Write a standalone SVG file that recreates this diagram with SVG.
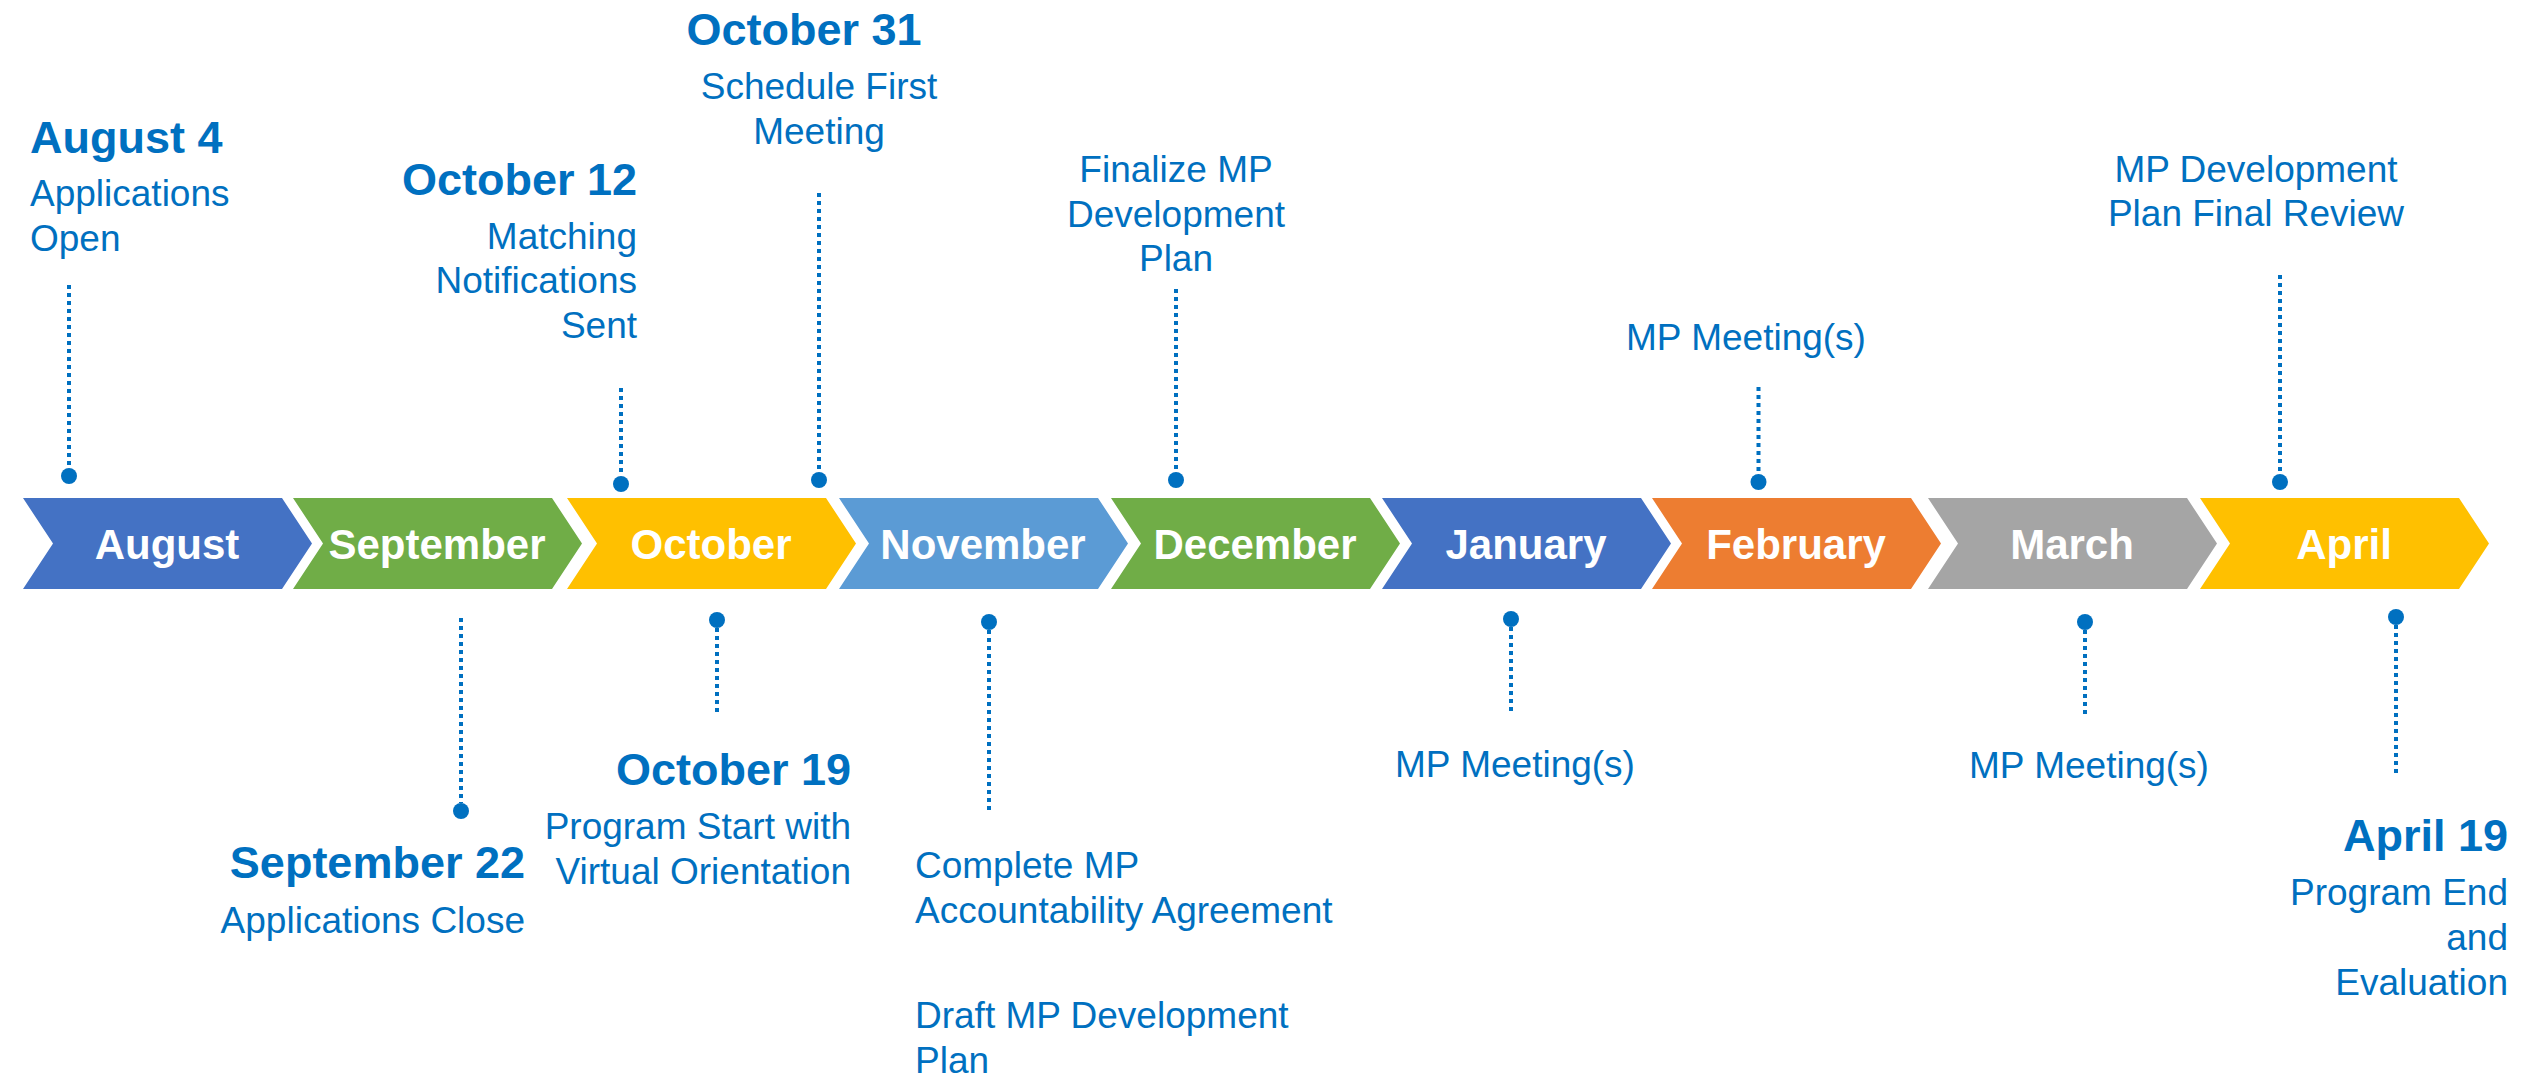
<svg xmlns="http://www.w3.org/2000/svg" width="2526" height="1077" viewBox="0 0 2526 1077">
<style>
.m{font-family:"Liberation Sans",Arial,sans-serif;font-weight:bold;font-size:42px;fill:#FFFFFF;text-anchor:middle}
.d{font-family:"Liberation Sans",Arial,sans-serif;font-weight:bold;font-size:45px;fill:#0070C0}
.t{font-family:"Liberation Sans",Arial,sans-serif;font-size:37px;fill:#0070C0}
.s{text-anchor:start}.e{text-anchor:end}.c{text-anchor:middle}
.ln{stroke:#0070C0;stroke-width:4;stroke-dasharray:4 4;fill:none}
.dot{fill:#0070C0}
</style>
<defs>
<polygon id="chev" points="0,498 259,498 289,543.5 259,589 0,589 30,543.5"/>
</defs>
<rect width="2526" height="1077" fill="#FFFFFF"/>
<g id="months">
<g id="m-aug"><use href="#chev" x="23" fill="#4472C4"/><text class="m" x="167" y="559">August</text></g>
<g id="m-sep"><use href="#chev" x="293" fill="#70AD47"/><text class="m" x="437" y="559">September</text></g>
<g id="m-oct"><use href="#chev" x="567" fill="#FFC000"/><text class="m" x="711" y="559">October</text></g>
<g id="m-nov"><use href="#chev" x="839" fill="#5B9BD5"/><text class="m" x="983" y="559">November</text></g>
<g id="m-dec"><use href="#chev" x="1111" fill="#70AD47"/><text class="m" x="1255" y="559">December</text></g>
<g id="m-jan"><use href="#chev" x="1382" fill="#4472C4"/><text class="m" x="1526" y="559">January</text></g>
<g id="m-feb"><use href="#chev" x="1652" fill="#ED7D31"/><text class="m" x="1796" y="559">February</text></g>
<g id="m-mar"><use href="#chev" x="1928" fill="#A5A5A5"/><text class="m" x="2072" y="559">March</text></g>
<g id="m-apr"><use href="#chev" x="2200" fill="#FFC000"/><text class="m" x="2344" y="559">April</text></g>
</g>
<g id="connectors">
<line class="ln" x1="69" y1="285" x2="69" y2="468"/><circle class="dot" cx="69" cy="476" r="8"/>
<line class="ln" x1="621" y1="388" x2="621" y2="476"/><circle class="dot" cx="621" cy="484" r="8"/>
<line class="ln" x1="819" y1="193" x2="819" y2="472"/><circle class="dot" cx="819" cy="480" r="8"/>
<line class="ln" x1="1176" y1="289" x2="1176" y2="472"/><circle class="dot" cx="1176" cy="480" r="8"/>
<line class="ln" x1="1758.5" y1="387" x2="1758.5" y2="474"/><circle class="dot" cx="1758.5" cy="482" r="8"/>
<line class="ln" x1="2280" y1="275" x2="2280" y2="474"/><circle class="dot" cx="2280" cy="482" r="8"/>
<line class="ln" x1="461" y1="618" x2="461" y2="803"/><circle class="dot" cx="461" cy="811" r="8"/>
<line class="ln" x1="717" y1="628" x2="717" y2="715"/><circle class="dot" cx="717" cy="620" r="8"/>
<line class="ln" x1="989" y1="630" x2="989" y2="810"/><circle class="dot" cx="989" cy="622" r="8"/>
<line class="ln" x1="1511" y1="627" x2="1511" y2="715"/><circle class="dot" cx="1511" cy="619" r="8"/>
<line class="ln" x1="2085" y1="630" x2="2085" y2="717"/><circle class="dot" cx="2085" cy="622" r="8"/>
<line class="ln" x1="2396" y1="625" x2="2396" y2="774"/><circle class="dot" cx="2396" cy="617" r="8"/>
</g>
<g id="ev-aug4"><text class="d s" x="30" y="153">August 4</text><text class="t s" x="30" y="206">Applications</text><text class="t s" x="30" y="251">Open</text></g>
<g id="ev-oct12"><text class="d e" x="637" y="195">October 12</text><text class="t e" x="637" y="249">Matching</text><text class="t e" x="637" y="293">Notifications</text><text class="t e" x="637" y="338">Sent</text></g>
<g id="ev-oct31"><text class="d c" x="804" y="45">October 31</text><text class="t c" x="819" y="99">Schedule First</text><text class="t c" x="819" y="144">Meeting</text></g>
<g id="ev-dec"><text class="t c" x="1176" y="182">Finalize MP</text><text class="t c" x="1176" y="227">Development</text><text class="t c" x="1176" y="271">Plan</text></g>
<g id="ev-feb"><text class="t c" x="1746" y="350">MP Meeting(s)</text></g>
<g id="ev-apr"><text class="t c" x="2256" y="182">MP Development</text><text class="t c" x="2256" y="226">Plan Final Review</text></g>
<g id="ev-sep22"><text class="d e" x="525" y="878">September 22</text><text class="t e" x="525" y="933">Applications Close</text></g>
<g id="ev-oct19"><text class="d e" x="851" y="785">October 19</text><text class="t e" x="851" y="839">Program Start with</text><text class="t e" x="851" y="884">Virtual Orientation</text></g>
<g id="ev-nov"><text class="t s" x="915" y="878">Complete MP</text><text class="t s" x="915" y="923">Accountability Agreement</text><text class="t s" x="915" y="1028">Draft MP Development</text><text class="t s" x="915" y="1073">Plan</text></g>
<g id="ev-jan"><text class="t c" x="1515" y="777">MP Meeting(s)</text></g>
<g id="ev-mar"><text class="t c" x="2089" y="778">MP Meeting(s)</text></g>
<g id="ev-apr19"><text class="d e" x="2508" y="851">April 19</text><text class="t e" x="2508" y="905">Program End</text><text class="t e" x="2508" y="950">and</text><text class="t e" x="2508" y="995">Evaluation</text></g>
</svg>
